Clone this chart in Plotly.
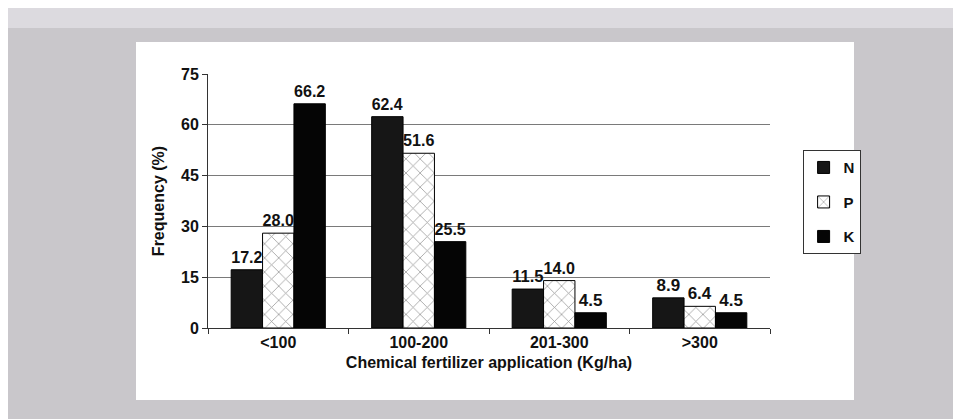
import plotly.graph_objects as go

categories = ["<100", "100-200", "201-300", ">300"]
n_values = [17.2, 62.4, 11.5, 8.9]
p_values = [28.0, 51.6, 14.0, 6.4]
k_values = [66.2, 25.5, 4.5, 4.5]
y_ticks = [0, 15, 30, 45, 60, 75]

FONT = "Liberation Sans"
LBL = dict(family=FONT, size=17, color="#111111", weight="bold")

fig = go.Figure()
fig.add_trace(go.Bar(
    name="N", x=categories, y=n_values, legendgroup="N",
    marker=dict(color="#161616", line=dict(color="#000000", width=1)),
    text=[f"{v:.1f}" for v in n_values], textposition="outside",
    textfont=LBL, cliponaxis=False,
))
fig.add_trace(go.Bar(
    name="P", x=categories, y=p_values, legendgroup="P",
    marker=dict(color="#ffffff", line=dict(color="#000000", width=1),
                pattern=dict(shape="x", fgcolor="#333333", bgcolor="#ffffff",
                             size=10, solidity=0.15)),
    text=[f"{v:.1f}" for v in p_values], textposition="outside",
    textfont=LBL, cliponaxis=False,
))
fig.add_trace(go.Bar(
    name="K", x=categories, y=k_values, legendgroup="K",
    marker=dict(color="#050505", line=dict(color="#000000", width=1)),
    text=[f"{v:.1f}" for v in k_values], textposition="outside",
    textfont=LBL, cliponaxis=False,
))

fig.update_layout(
    width=961, height=419,
    margin=dict(l=200, r=199, t=66, b=99),
    paper_bgcolor="#c9c7cb",
    plot_bgcolor="#ffffff",
    barmode="group",
    bargap=0.33,
    bargroupgap=0,
    font=dict(family=FONT, color="#111111"),
    showlegend=True,
    legend=dict(
        x=1.058, y=0.70, xanchor="left", yanchor="top",
        bgcolor="#ffffff", bordercolor="#333333", borderwidth=1,
        font=dict(family=FONT, size=15, color="#111111", weight="bold"),
        tracegroupgap=12, itemwidth=30,
    ),
    xaxis=dict(
        showline=True, linecolor="#333333", linewidth=1,
        ticks="outside", tickson="boundaries", ticklen=5, tickcolor="#333333",
        tickfont=dict(family=FONT, size=16, color="#111111", weight="bold"),
        title=dict(text="Chemical fertilizer application (Kg/ha)",
                   font=dict(family=FONT, size=16, color="#111111", weight="bold"),
                   standoff=6),
    ),
    yaxis=dict(
        range=[0, 75], tickvals=y_ticks,
        showline=True, linecolor="#333333", linewidth=1,
        ticks="outside", ticklen=5, tickcolor="#333333",
        showgrid=True, gridcolor="#7a7a7a", gridwidth=1,
        tickfont=dict(family=FONT, size=16, color="#111111", weight="bold"),
        title=dict(text="Frequency (%)",
                   font=dict(family=FONT, size=16, color="#111111", weight="bold"),
                   standoff=12),
        zeroline=False,
    ),
    shapes=[
        dict(type="rect", xref="paper", yref="paper", layer="below",
             x0=(128 - 200) / 562, x1=(846 - 200) / 562,
             y0=(320 - 392) / 254, y1=(320 - 34) / 254,
             fillcolor="#ffffff", line=dict(width=0)),
        dict(type="rect", xref="paper", yref="paper", layer="below",
             x0=-200 / 562, x1=761 / 562,
             y0=(320 - 20) / 254, y1=320 / 254,
             fillcolor="#dcdadf", line=dict(width=0)),
    ],
)

fig.write_html("out.html")
